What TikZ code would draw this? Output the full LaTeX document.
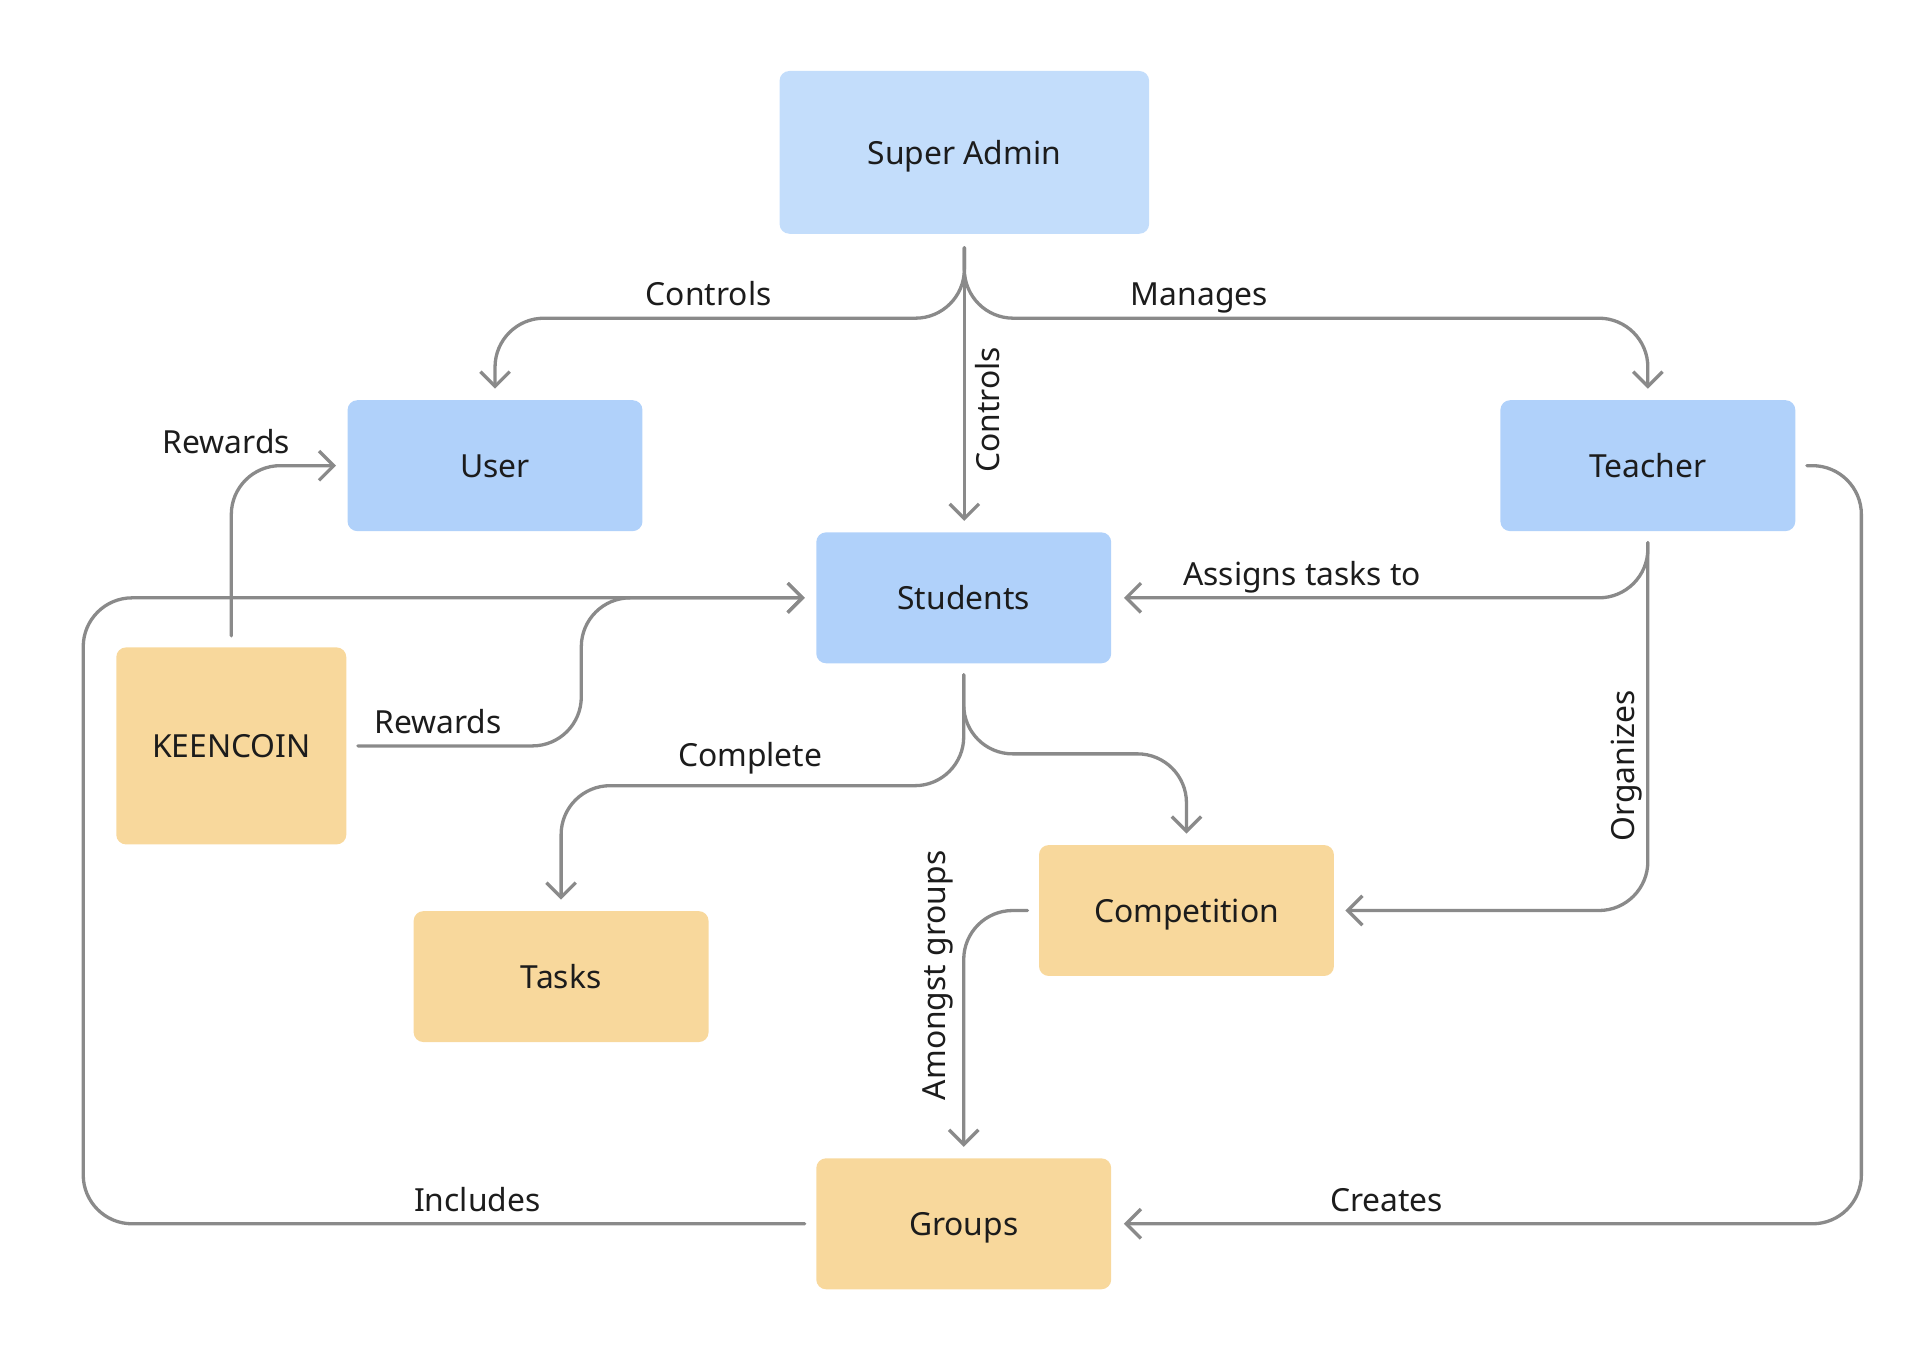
\documentclass[tikz,border=0pt]{standalone}
\usepackage{fontspec}
\setmainfont{Noto Sans}
\usetikzlibrary{arrows.meta,calc}
\definecolor{saBlue}{HTML}{C3DDFB}
\definecolor{boxBlue}{HTML}{B0D1FA}
\definecolor{boxOrange}{HTML}{F8D89C}
\definecolor{lineGray}{HTML}{8A8A8A}
\definecolor{txt}{HTML}{1C1C1C}
\begin{document}
\begin{tikzpicture}[x=0.5pt,y=-0.5pt,
  box/.style={rounded corners=4pt,inner sep=0pt,text=txt,font=\fontsize{13pt}{15pt}\selectfont,minimum width=120.5pt,minimum height=53.5pt,text height=12.3pt,text depth=2.7pt},
  bluebox/.style={box,fill=boxBlue},
  orangebox/.style={box,fill=boxOrange},
  conn/.style={draw=lineGray,line width=1.35pt,rounded corners=20pt,line cap=round,
    -{Straight Barb[length=6pt,width=12pt,line width=1.35pt]},shorten <=4.5pt,shorten >=4.5pt},
  lbl/.style={text=txt,font=\fontsize{13pt}{15pt}\selectfont,inner sep=0pt,text height=12.3pt,text depth=2.7pt}]
\useasboundingbox (0,0) rectangle (1564,1110);
% nodes
\node[box,fill=saBlue,minimum width=151pt,minimum height=66.5pt] (sa) at (788,124.5) {Super Admin};
\node[bluebox] (user) at (404.5,380.5) {User};
\node[bluebox] (tea) at (1346.5,380.5) {Teacher};
\node[bluebox] (stu) at (787.5,488.5) {Students};
\node[orangebox,minimum width=94pt,minimum height=80.5pt] (kc) at (189,609.5) {KEENCOIN};
\node[orangebox] (tasks) at (458.5,798) {Tasks};
\node[orangebox] (comp) at (969.5,744) {Competition};
\node[orangebox] (grp) at (787.5,1000) {Groups};
% routing coordinates
\coordinate (ySA) at (0,260);
\coordinate (xKR) at (475,0);
\coordinate (xLoop) at (68,0);
\coordinate (xRight) at (1521,0);
\coordinate (yC) at (0,642);
\coordinate (yComp) at (0,616);
% connectors
\draw[conn,shorten <=5.5pt] (sa.south) -- (sa.south |- ySA) -| (user.north);
\draw[conn,shorten <=5.5pt] (sa.south) -- (sa.south |- ySA) -| (tea.north);
\draw[conn,shorten <=5.5pt] (sa.south) -- (sa.south |- stu.north);
\draw[conn] (kc.north) |- (user.west);
\draw[conn] (kc.east) -- (xKR |- kc.east) |- (stu.west);
\draw[conn] (grp.west) -- (xLoop |- grp.west) |- (stu.west);
\draw[conn,shorten >=5pt] (tea.south) |- (stu.east);
\draw[conn] (tea.south) |- (comp.east);
\draw[conn,shorten >=5pt] (tea.east) -- (xRight |- tea.east) |- (grp.east);
\draw[conn] (stu.south) -- (stu.south |- yC) -| (tasks.north);
\draw[conn] (stu.south) -- (stu.south |- yComp) -| (comp.north);
\draw[conn] (comp.west) -| (grp.north);
% labels
\node[lbl] (l1) at (579,240) {Controls};
\node[lbl] (l2) at (980,240) {Manages};
\node[lbl,rotate=90] (l3) at (807,335) {Controls};
\node[lbl] (l4) at (185,361) {Rewards};
\node[lbl] (l5) at (358,590) {Rewards};
\node[lbl] (l6) at (1064,469) {Assigns tasks to};
\node[lbl,rotate=90] (l7) at (1326,626) {Organizes};
\node[lbl] (l8) at (613,617) {Complete};
\node[lbl,rotate=90] (l9) at (763,797) {Amongst groups};
\node[lbl] (l10) at (390,980) {Includes};
\node[lbl] (l11) at (1133,980) {Creates};
\end{tikzpicture}
\end{document}
